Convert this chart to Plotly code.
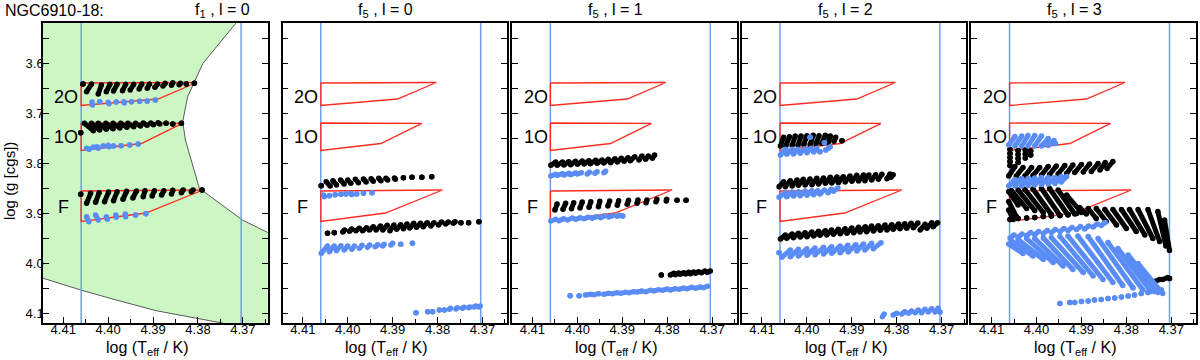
import plotly.graph_objects as go

# ---------------------------------------------------------------- data
x_range = [4.4145, 4.3645]          # log Teff, reversed
y_range = [4.12, 3.52]              # log g, reversed
blue_lines = [4.4060, 4.3704]

x_ticks = [4.41, 4.40, 4.39, 4.38, 4.37]
y_ticks = [3.6, 3.7, 3.8, 3.9, 4.0, 4.1]

# instability strip edges (first panel)
edge_upper_x = [4.3697, 4.3715, 4.3789, 4.3823, 4.3834, 4.3828, 4.3797, 4.3701, 4.3645, 4.3600]
edge_upper_y = [3.500, 3.520, 3.6006, 3.6674, 3.7174, 3.754, 3.8506, 3.914, 3.939, 3.959]
edge_lower_x = [4.4200, 4.4145, 4.4061, 4.3982, 4.3893, 4.3743, 4.3687]
edge_lower_y = [4.015, 4.0306, 4.054, 4.074, 4.0954, 4.1206, 4.130]

# observed boxes (red)
box_2O_x = [4.4060, 4.3803, 4.3889, 4.4060, 4.4060]
box_2O_y = [3.640, 3.639, 3.672, 3.685, 3.640]
box_1O_x = [4.4060, 4.3835, 4.3926, 4.4060, 4.4060]
box_1O_y = [3.720, 3.7206, 3.761, 3.775, 3.720]
box_F_x = [4.4060, 4.3789, 4.3916, 4.4060, 4.4060]
box_F_y = [3.856, 3.854, 3.900, 3.917, 3.856]

mode_labels = ["2O", "1O", "F"]
mode_label_x = [4.4093, 4.4093, 4.4100]
mode_label_y = [3.6674, 3.7474, 3.888]

panel_titles = ["f<sub>1</sub> , l = 0", "f<sub>5</sub> , l = 0", "f<sub>5</sub> , l = 1",
                "f<sub>5</sub> , l = 2", "f<sub>5</sub> , l = 3"]

# model points: (x1, y1, x2, y2) short tracks, or (x, y) single models
p1_2O_black = [(4.4056, 3.642), (4.4048, 3.6573, 4.4037, 3.6420), (4.4022, 3.6620, 4.4015, 3.6440),
               (4.4004, 3.6573, 4.3996, 3.6427), (4.3988, 3.6560, 4.3980, 3.6427),
               (4.3968, 3.6553, 4.3961, 3.6427), (4.3951, 3.6540, 4.3943, 3.6427),
               (4.3931, 3.6520, 4.3925, 3.6420), (4.3913, 3.6507, 4.3908, 3.6420),
               (4.3896, 3.6487, 4.3890, 3.6420), (4.3878, 3.6460, 4.3873, 3.6407),
               (4.3859, 3.6447, 4.3856, 3.6393), (4.3842, 3.6433, 4.3839, 3.6407),
               (4.3826, 3.6420), (4.3808, 3.6407)]
p1_2O_blue = [(4.4036, 3.678, 4.4035, 3.684), (4.4019, 3.6773), (4.4000, 3.6787, 4.3998, 3.6813),
              (4.3982, 3.6780), (4.3965, 3.6773, 4.3964, 3.680), (4.3948, 3.6773),
              (4.3930, 3.6767), (4.3913, 3.6760), (4.3895, 3.6740)]
p1_1O_black = [(4.4061, 3.7393), (4.4053, 3.7207, 4.4033, 3.7353), (4.4037, 3.7207, 4.4019, 3.7340),
               (4.4022, 3.7207, 4.4004, 3.7327), (4.4005, 3.7207, 4.3989, 3.7313),
               (4.3989, 3.7207, 4.3974, 3.7300), (4.3972, 3.7207, 4.3958, 3.7287),
               (4.3956, 3.7207, 4.3943, 3.7273), (4.3939, 3.7207, 4.3928, 3.7260),
               (4.3922, 3.7200, 4.3913, 3.7247), (4.3905, 3.7200, 4.3899, 3.7233),
               (4.3889, 3.7193, 4.3885, 3.7220), (4.3871, 3.7207), (4.3856, 3.7220), (4.3837, 3.7207)]
p1_1O_blue = [(4.4048, 3.7707, 4.4042, 3.7727), (4.4033, 3.7687), (4.4025, 3.7673, 4.4022, 3.7707),
              (4.4011, 3.7660), (4.4000, 3.7647, 4.3998, 3.7673), (4.3988, 3.7660),
              (4.3971, 3.7653), (4.3952, 3.7640), (4.3933, 3.7620)]
p1_F_black = [(4.4061, 3.8627), (4.4048, 3.8807, 4.4039, 3.8607), (4.4028, 3.8787, 4.4020, 3.8593),
              (4.4008, 3.8773, 4.3999, 3.8580), (4.3988, 3.8753, 4.3980, 3.8573),
              (4.3967, 3.8727, 4.3959, 3.8567), (4.3945, 3.8700, 4.3937, 3.8560),
              (4.3922, 3.8673, 4.3918, 3.8553), (4.3902, 3.8660, 4.3897, 3.8553),
              (4.3881, 3.8640, 4.3876, 3.8553), (4.3859, 3.8620, 4.3856, 3.8547),
              (4.3837, 3.8593, 4.3833, 3.8540), (4.3815, 3.8573, 4.3811, 3.8540), (4.3791, 3.8540)]
p1_F_blue = [(4.4048, 3.9073, 4.4043, 3.9173), (4.4028, 3.9040, 4.4022, 3.9140),
             (4.4004, 3.9073, 4.4002, 3.9127), (4.3983, 3.9040, 4.3982, 3.9087),
             (4.3962, 3.9020, 4.3961, 3.9073), (4.3939, 3.9040), (4.3916, 3.9013)]

p2_up_black = [(4.4059, 3.8453), (4.4048, 3.8373, 4.4039, 3.8460), (4.4033, 3.8353, 4.4025, 3.8440),
               (4.4016, 3.8340, 4.4008, 3.8420), (4.4000, 3.8340, 4.3993, 3.8407),
               (4.3983, 3.8327, 4.3976, 3.8393), (4.3965, 3.8320, 4.3959, 3.8380),
               (4.3948, 3.8313, 4.3943, 3.8367), (4.3931, 3.8307, 4.3926, 3.8353),
               (4.3915, 3.8307, 4.3911, 3.8340), (4.3896, 3.8300, 4.3894, 3.8327),
               (4.3876, 3.8293), (4.3857, 3.8287), (4.3835, 3.8287), (4.3813, 3.8273)]
p2_up_blue = [(4.4054, 3.8640, 4.4052, 3.8673), (4.4041, 3.8653), (4.4028, 3.8633), (4.4015, 3.8627),
              (4.4004, 3.8620), (4.3993, 3.8607, 4.3991, 3.8633), (4.3980, 3.8620),
              (4.3965, 3.8607), (4.3946, 3.8593)]
p2_low_black = [(4.4045, 3.9407), (4.4030, 3.9393), (4.4011, 3.9380, 4.4007, 3.9340),
                (4.3996, 3.9367, 4.3991, 3.9320), (4.3982, 3.9353, 4.3974, 3.9307),
                (4.3967, 3.9353, 4.3958, 3.9293), (4.3952, 3.9340, 4.3943, 3.9273),
                (4.3937, 3.9340, 4.3927, 3.9260), (4.3922, 3.9340, 4.3912, 3.9247),
                (4.3906, 3.9353, 4.3897, 3.9240), (4.3891, 3.9327, 4.3882, 3.9233),
                (4.3876, 3.9313, 4.3868, 3.9220), (4.3862, 3.9300, 4.3853, 3.9207),
                (4.3847, 3.9287, 4.3838, 3.9207), (4.3832, 3.9273, 4.3823, 3.9193),
                (4.3815, 3.9260, 4.3808, 3.9193), (4.3798, 3.9240, 4.3791, 3.9180),
                (4.3782, 3.9220, 4.3776, 3.9180), (4.3765, 3.9207, 4.3761, 3.9173),
                (4.3748, 3.9193), (4.3731, 3.9193), (4.3708, 3.9173)]
p2_low_blue = [(4.4059, 3.9807, 4.4045, 3.9660), (4.4041, 3.9773, 4.4030, 3.9660),
               (4.4025, 3.9753, 4.4015, 3.9653), (4.4008, 3.9740, 4.4000, 3.9660),
               (4.3991, 3.9727, 4.3985, 3.9660), (4.3974, 3.9707, 4.3968, 3.9647),
               (4.3956, 3.9687, 4.3951, 3.9640), (4.3939, 3.9673, 4.3933, 3.9633),
               (4.3922, 3.9660, 4.3919, 3.9627), (4.3904, 3.9640, 4.3900, 3.9607),
               (4.3882, 3.9627), (4.3856, 3.9607)]
p2_bot_blue = [(4.3848, 4.0993), (4.3822, 4.0973), (4.3811, 4.0973), (4.3796, 4.0940), (4.3785, 4.0940),
               (4.3774, 4.0927, 4.3771, 4.0907), (4.3759, 4.0920, 4.3756, 4.0893),
               (4.3745, 4.0907, 4.3741, 4.0887), (4.3731, 4.0893, 4.3728, 4.0880),
               (4.3719, 4.0880, 4.3715, 4.0860), (4.3708, 4.0880, 4.3705, 4.0860)]

p3_up_black = [(4.4059, 3.8047, 4.4048, 3.7980), (4.4045, 3.8047, 4.4033, 3.7980),
               (4.4030, 3.8040, 4.4019, 3.7973), (4.4015, 3.8033, 4.4004, 3.7967),
               (4.4000, 3.8027, 4.3989, 3.7960), (4.3985, 3.8020, 4.3974, 3.7953),
               (4.3971, 3.8013, 4.3959, 3.7947), (4.3956, 3.8007, 4.3945, 3.7940),
               (4.3941, 3.8000, 4.3931, 3.7927), (4.3926, 3.7993, 4.3916, 3.7913),
               (4.3911, 3.7980, 4.3902, 3.7907), (4.3896, 3.7967, 4.3887, 3.7893),
               (4.3882, 3.7953, 4.3872, 3.7873), (4.3863, 3.7940, 4.3856, 3.7860),
               (4.3848, 3.7927, 4.3842, 3.7860), (4.3833, 3.7907, 4.3828, 3.7840)]
p3_up_blue = [(4.4059, 3.8260, 4.4048, 3.8227), (4.4045, 3.8247, 4.4033, 3.8213),
              (4.4030, 3.8240, 4.4019, 3.8207), (4.4015, 3.8233, 4.4004, 3.8200),
              (4.4000, 3.8220, 4.3991, 3.8193), (4.3978, 3.8220, 4.3973, 3.8187),
              (4.3961, 3.8207, 4.3956, 3.8173), (4.3941, 3.8193, 4.3937, 3.8167)]
p3_F_black = [(4.4050, 3.8940, 4.4045, 3.8820), (4.4032, 3.8927, 4.4026, 3.8807),
              (4.4013, 3.8913, 4.4008, 3.8793), (4.3994, 3.8900, 4.3989, 3.8780),
              (4.3974, 3.8887, 4.3970, 3.8773), (4.3953, 3.8873, 4.3950, 3.8767),
              (4.3932, 3.8860, 4.3928, 3.8760), (4.3911, 3.8847, 4.3908, 3.8753),
              (4.3889, 3.8827, 4.3886, 3.8747), (4.3867, 3.8807, 4.3865, 3.8740),
              (4.3847, 3.8793, 4.3845, 3.8740), (4.3825, 3.8773, 4.3823, 3.8727),
              (4.3802, 3.8760, 4.3801, 3.8727), (4.3778, 3.8747), (4.3758, 3.8747)]
p3_F_blue = [(4.4059, 3.9160, 4.4048, 3.9127), (4.4041, 3.9153, 4.4030, 3.9113),
             (4.4022, 3.9140, 4.4011, 3.9100), (4.4004, 3.9127, 4.3993, 3.9093),
             (4.3985, 3.9113, 4.3976, 3.9087), (4.3967, 3.9107, 4.3958, 3.9073),
             (4.3948, 3.9093, 4.3941, 3.9060), (4.3930, 3.9080, 4.3922, 3.9053),
             (4.3911, 3.9067, 4.3906, 3.9047), (4.3899, 3.9060)]
p3_low_black = [(4.3813, 4.0240), (4.3793, 4.0240, 4.3785, 4.0207), (4.3782, 4.0233, 4.3774, 4.0200),
                (4.3771, 4.0227, 4.3763, 4.0193), (4.3759, 4.0220, 4.3752, 4.0187),
                (4.3748, 4.0213, 4.3741, 4.0180), (4.3737, 4.0207, 4.3730, 4.0173),
                (4.3724, 4.0193, 4.3716, 4.0160), (4.3711, 4.0187, 4.3704, 4.0160)]
p3_low_blue = [(4.4016, 4.0653), (4.3996, 4.0653), (4.3982, 4.0640, 4.3970, 4.0627),
               (4.3963, 4.0633, 4.3952, 4.0613), (4.3941, 4.0627, 4.3930, 4.0607),
               (4.3922, 4.0613, 4.3911, 4.0593), (4.3904, 4.0607, 4.3893, 4.0587),
               (4.3885, 4.0593, 4.3874, 4.0573), (4.3867, 4.0580, 4.3856, 4.0560),
               (4.3848, 4.0573, 4.3837, 4.0547), (4.3830, 4.0560, 4.3819, 4.0533),
               (4.3811, 4.0547, 4.3800, 4.0520), (4.3793, 4.0540, 4.3782, 4.0513),
               (4.3774, 4.0527, 4.3763, 4.0500), (4.3756, 4.0513, 4.3745, 4.0487),
               (4.3737, 4.0507, 4.3726, 4.0480), (4.3719, 4.0493, 4.3710, 4.0467)]

p4_1O_black = [(4.4059, 3.7660, 4.4052, 3.7487), (4.4047, 3.7660, 4.4039, 3.7473),
               (4.4033, 3.7647, 4.4026, 3.7460), (4.4020, 3.7647, 4.4013, 3.7460),
               (4.4007, 3.7633, 4.4000, 3.7453), (4.3993, 3.7633, 4.3986, 3.7447),
               (4.3980, 3.7620, 4.3973, 3.7453), (4.3967, 3.7607, 4.3959, 3.7447),
               (4.3953, 3.7593, 4.3948, 3.7460), (4.3940, 3.7567, 4.3936, 3.7487), (4.3922, 3.7553)]
p4_1O_blue = [(4.4059, 3.7840, 4.4048, 3.7727), (4.4045, 3.7827, 4.4033, 3.7727),
              (4.4030, 3.7820, 4.4020, 3.7727), (4.4015, 3.7807, 4.4005, 3.7713),
              (4.4000, 3.7793, 4.3991, 3.7707), (4.3985, 3.7780, 4.3978, 3.7707),
              (4.3971, 3.7773), (4.3958, 3.7740), (4.3952, 3.7707, 4.3948, 3.7673),
              (4.3993, 3.7487), (4.3961, 3.7593)]
p4_mid_black = [(4.4062, 3.8473, 4.4052, 3.8373), (4.4048, 3.8473, 4.4037, 3.8353),
                (4.4033, 3.8460, 4.4022, 3.8340), (4.4019, 3.8447, 4.4008, 3.8327),
                (4.4004, 3.8440, 4.3993, 3.8320), (4.3989, 3.8433, 4.3978, 3.8307),
                (4.3974, 3.8420, 4.3963, 3.8300), (4.3959, 3.8407, 4.3948, 3.8287),
                (4.3945, 3.8400, 4.3933, 3.8280), (4.3930, 3.8393, 4.3919, 3.8273),
                (4.3915, 3.8380, 4.3904, 3.8260), (4.3900, 3.8367, 4.3889, 3.8247),
                (4.3885, 3.8360, 4.3874, 3.8240), (4.3871, 3.8353, 4.3862, 3.8240),
                (4.3856, 3.8340, 4.3847, 3.8233), (4.3841, 3.8327, 4.3833, 3.8227),
                (4.3822, 3.8313, 4.3815, 3.8220), (4.3813, 3.8287, 4.3808, 3.8233)]
p4_mid_blue = [(4.4062, 3.8687, 4.4048, 3.8593), (4.4045, 3.8673, 4.4033, 3.8580),
               (4.4030, 3.8660, 4.4019, 3.8573), (4.4015, 3.8653, 4.4004, 3.8560),
               (4.4000, 3.8647, 4.3989, 3.8553), (4.3985, 3.8633, 4.3976, 3.8553),
               (4.3971, 3.8620, 4.3961, 3.8540), (4.3953, 3.8593, 4.3946, 3.8527),
               (4.3941, 3.8567, 4.3931, 3.8500)]
p4_low_black = [(4.4059, 3.9520, 4.4048, 3.9440), (4.4045, 3.9507, 4.4033, 3.9420),
                (4.4030, 3.9493, 4.4019, 3.9407), (4.4015, 3.9480, 4.4004, 3.9393),
                (4.4000, 3.9473, 4.3989, 3.9380), (4.3985, 3.9460, 4.3974, 3.9367),
                (4.3971, 3.9447, 4.3959, 3.9353), (4.3956, 3.9440, 4.3945, 3.9340),
                (4.3941, 3.9427, 4.3930, 3.9327), (4.3926, 3.9413, 4.3915, 3.9313),
                (4.3911, 3.9407, 4.3900, 3.9300), (4.3896, 3.9393, 4.3885, 3.9287),
                (4.3882, 3.9380, 4.3870, 3.9273), (4.3867, 3.9373, 4.3856, 3.9260),
                (4.3852, 3.9360, 4.3841, 3.9253), (4.3837, 3.9347, 4.3826, 3.9240),
                (4.3822, 3.9340, 4.3811, 3.9233), (4.3808, 3.9327, 4.3796, 3.9220),
                (4.3793, 3.9313, 4.3782, 3.9213), (4.3778, 3.9307, 4.3768, 3.9207),
                (4.3763, 3.9293, 4.3753, 3.9200), (4.3748, 3.9340, 4.3737, 3.9227),
                (4.3733, 3.9307, 4.3722, 3.9193), (4.3719, 3.9273, 4.3709, 3.9193)]
p4_low_blue = [(4.4062, 3.9793), (4.4056, 3.9887, 4.4037, 3.9740), (4.4037, 3.9873, 4.4019, 3.9727),
               (4.4019, 3.9860, 4.4000, 3.9713), (4.4000, 3.9847, 4.3982, 3.9700),
               (4.3982, 3.9833, 4.3963, 3.9687), (4.3963, 3.9820, 4.3945, 3.9673),
               (4.3945, 3.9807, 4.3926, 3.9660), (4.3926, 3.9793, 4.3909, 3.9647),
               (4.3908, 3.9780, 4.3891, 3.9633), (4.3889, 3.9760, 4.3874, 3.9620),
               (4.3871, 3.9740, 4.3856, 3.9607), (4.3852, 3.9713, 4.3835, 3.9593)]
p4_bot_blue = [(4.3832, 4.1073, 4.3828, 4.1020), (4.3808, 4.1040, 4.3800, 4.1007),
               (4.3789, 4.1020, 4.3782, 4.0973), (4.3774, 4.1007, 4.3767, 4.0960),
               (4.3759, 4.0993, 4.3752, 4.0940), (4.3745, 4.0993, 4.3737, 4.0927),
               (4.3730, 4.0980, 4.3722, 4.0913), (4.3715, 4.0980, 4.3708, 4.0907), (4.3704, 4.0980)]

p5_top_blue = [(4.4062, 3.764, 4.4048, 3.747), (4.4048, 3.766, 4.4033, 3.746),
               (4.4033, 3.766, 4.4019, 3.745), (4.4019, 3.766, 4.4004, 3.745),
               (4.4004, 3.766, 4.3989, 3.746), (4.3989, 3.766, 4.3974, 3.751),
               (4.3974, 3.765, 4.3961, 3.755), (4.3958, 3.761)]
p5_cols_black = [(4.4059, 3.773), (4.4059, 3.781), (4.4059, 3.789), (4.4059, 3.797), (4.4059, 3.805),
                 (4.4041, 3.775), (4.4041, 3.783), (4.4041, 3.791), (4.4041, 3.799),
                 (4.4025, 3.774), (4.4025, 3.782), (4.4025, 3.790),
                 (4.4013, 3.776), (4.4013, 3.784)]
p5_band_black = [(4.4062, 3.826, 4.4048, 3.807), (4.4045, 3.826, 4.4030, 3.809),
                 (4.4026, 3.826, 4.4011, 3.809), (4.4008, 3.825, 4.3993, 3.809),
                 (4.3989, 3.824, 4.3974, 3.807), (4.3971, 3.823, 4.3956, 3.806),
                 (4.3952, 3.822, 4.3937, 3.805), (4.3933, 3.821, 4.3919, 3.804),
                 (4.3915, 3.819, 4.3900, 3.803), (4.3896, 3.818, 4.3882, 3.802),
                 (4.3878, 3.817, 4.3863, 3.801), (4.3859, 3.814, 4.3847, 3.799),
                 (4.3843, 3.811, 4.3830, 3.797)]
p5_mid_blue = [(4.4062, 3.846, 4.4048, 3.833), (4.4048, 3.846, 4.4033, 3.831),
               (4.4033, 3.846, 4.4019, 3.831), (4.4019, 3.845, 4.4004, 3.830),
               (4.4004, 3.844, 4.3989, 3.829), (4.3989, 3.843, 4.3974, 3.829),
               (4.3974, 3.842, 4.3959, 3.829), (4.3959, 3.841, 4.3945, 3.827),
               (4.3945, 3.838, 4.3933, 3.827)]
p5_F_black = [(4.4062, 3.857, 4.4041, 3.884), (4.4056, 3.855, 4.4022, 3.891),
              (4.4041, 3.854, 4.4004, 3.895), (4.4026, 3.853, 4.3985, 3.899),
              (4.4008, 3.852, 4.3967, 3.903), (4.3989, 3.851, 4.3948, 3.905),
              (4.3971, 3.851, 4.3930, 3.904), (4.3952, 3.854, 4.3915, 3.902),
              (4.3933, 3.864, 4.3900, 3.899), (4.4062, 3.877, 4.4045, 3.907),
              (4.4062, 3.894, 4.4052, 3.913),
              (4.4059, 3.913), (4.4041, 3.911), (4.4022, 3.910), (4.4004, 3.909), (4.3985, 3.907),
              (4.3967, 3.906), (4.3948, 3.905), (4.3930, 3.903), (4.3911, 3.901), (4.3897, 3.898)]
p5_right_black = [(4.3904, 3.889, 4.3889, 3.902), (4.3885, 3.891, 4.3867, 3.911),
                  (4.3867, 3.891, 4.3845, 3.917), (4.3848, 3.893, 4.3822, 3.924),
                  (4.3830, 3.893, 4.3800, 3.931), (4.3811, 3.893, 4.3778, 3.937),
                  (4.3793, 3.893, 4.3759, 3.944), (4.3774, 3.893, 4.3741, 3.951),
                  (4.3752, 3.893, 4.3726, 3.957), (4.3730, 3.897, 4.3712, 3.966),
                  (4.3715, 3.914, 4.3704, 3.975)]
p5_bot_black = [(4.3756, 4.034), (4.3737, 4.037, 4.3726, 4.033), (4.3719, 4.033, 4.3708, 4.029),
                (4.3704, 4.031)]
p5_row_blue = [(4.4059, 3.950, 4.4050, 3.944), (4.4041, 3.948, 4.4032, 3.942),
               (4.4022, 3.945, 4.4013, 3.939), (4.4004, 3.943, 4.3995, 3.937),
               (4.3985, 3.941, 4.3976, 3.935), (4.3967, 3.939, 4.3958, 3.933),
               (4.3948, 3.937, 4.3939, 3.931), (4.3930, 3.935, 4.3921, 3.929),
               (4.3911, 3.933, 4.3902, 3.927), (4.3893, 3.932, 4.3884, 3.926),
               (4.3874, 3.928, 4.3865, 3.922), (4.3856, 3.925, 4.3847, 3.919)]
p5_diag_blue = [(4.4062, 3.962, 4.4030, 3.981), (4.4056, 3.955, 4.4008, 3.986),
                (4.4041, 3.953, 4.3985, 3.993), (4.4022, 3.951, 4.3963, 3.999),
                (4.4004, 3.951, 4.3941, 4.006), (4.3985, 3.950, 4.3919, 4.013),
                (4.3967, 3.949, 4.3896, 4.019), (4.3948, 3.947, 4.3874, 4.026),
                (4.3930, 3.946, 4.3852, 4.033), (4.3908, 3.946, 4.3830, 4.039),
                (4.3885, 3.947, 4.3808, 4.045), (4.3863, 3.951, 4.3785, 4.050),
                (4.3841, 3.959, 4.3763, 4.054), (4.3819, 3.971, 4.3745, 4.057),
                (4.3796, 3.984, 4.3730, 4.059), (4.3774, 4.001, 4.3719, 4.061)]
p5_hook_blue = [(4.3948, 4.081), (4.3926, 4.079), (4.3915, 4.079), (4.3900, 4.077), (4.3885, 4.076),
                (4.3871, 4.074), (4.3856, 4.073), (4.3841, 4.071), (4.3826, 4.070), (4.3811, 4.068),
                (4.3796, 4.066), (4.3782, 4.064), (4.3767, 4.061), (4.3752, 4.059), (4.3737, 4.057),
                (4.3722, 4.054)]

panel_black = [
    [p1_2O_black, p1_1O_black, p1_F_black],
    [p2_up_black, p2_low_black],
    [p3_up_black, p3_F_black, p3_low_black],
    [p4_1O_black, p4_mid_black, p4_low_black],
    [p5_cols_black, p5_band_black, p5_F_black, p5_right_black, p5_bot_black],
]
panel_blue = [
    [p1_2O_blue, p1_1O_blue, p1_F_blue],
    [p2_up_blue, p2_low_blue, p2_bot_blue],
    [p3_up_blue, p3_F_blue, p3_low_blue],
    [p4_1O_blue, p4_mid_blue, p4_low_blue, p4_bot_blue],
    [p5_top_blue, p5_mid_blue, p5_row_blue, p5_diag_blue, p5_hook_blue],
]

# ---------------------------------------------------------------- style
FONT = "Liberation Sans, Arial, Helvetica, sans-serif"
GREEN = "#ccf6c4"
BLUE_LINE = "#6f9df2"
BLUE_PT = "#5a8cf5"
RED = "#ff2a1f"
W, H = 1200, 360
ML, MR, MT, MB = 43, 2, 23, 37
PW = W - ML - MR
PH = H - MT - MB
panel_left = [43, 283, 513, 743, 973]
panel_w = 225


def seg_xy(segs):
    xs, ys = [], []
    for s in segs:
        if len(s) == 2:
            s = (s[0], s[1], s[0], s[1])
        xs += [s[0], s[2], None]
        ys += [s[1], s[3], None]
    return xs, ys


def px_x(px):
    return (px - ML) / PW


def px_y(py):
    return (MT + PH - py) / PH


fig = go.Figure()

for i in range(5):
    xa = "x" if i == 0 else f"x{i + 1}"
    ya = "y" if i == 0 else f"y{i + 1}"

    if i == 0:
        fx = [x_range[0] + 0.01] + edge_upper_x + [edge_upper_x[-1]] + edge_lower_x[::-1] + [x_range[0] + 0.01]
        fy = [edge_upper_y[0]] + edge_upper_y + [4.2] + edge_lower_y[::-1] + [edge_upper_y[0]]
        fig.add_trace(go.Scatter(x=fx, y=fy, fill="toself", fillcolor=GREEN, mode="none",
                                 xaxis=xa, yaxis=ya, hoverinfo="skip", showlegend=False))
        for ex, ey in [(edge_upper_x, edge_upper_y), (edge_lower_x, edge_lower_y)]:
            fig.add_trace(go.Scatter(x=ex, y=ey, mode="lines", line=dict(color="#5a5a5a", width=1),
                                     xaxis=xa, yaxis=ya, hoverinfo="skip", showlegend=False))

    for bx in blue_lines:
        fig.add_trace(go.Scatter(x=[bx, bx], y=[3.4, 4.2], mode="lines",
                                 line=dict(color=BLUE_LINE, width=1.5),
                                 xaxis=xa, yaxis=ya, hoverinfo="skip", showlegend=False))

    for bx, by in [(box_2O_x, box_2O_y), (box_1O_x, box_1O_y), (box_F_x, box_F_y)]:
        fig.add_trace(go.Scatter(x=bx, y=by, mode="lines", line=dict(color=RED, width=1.3),
                                 xaxis=xa, yaxis=ya, hoverinfo="skip", showlegend=False))

    for segs, col in [(s, "black") for s in panel_black[i]] + [(s, BLUE_PT) for s in panel_blue[i]]:
        sx, sy = seg_xy(segs)
        fig.add_trace(go.Scatter(x=sx, y=sy, mode="lines+markers",
                                 line=dict(color=col, width=5),
                                 marker=dict(color=col, size=5.5, line=dict(width=0)),
                                 xaxis=xa, yaxis=ya, hoverinfo="skip", showlegend=False))

    for lab, lx, ly in zip(mode_labels, mode_label_x, mode_label_y):
        fig.add_annotation(x=lx, y=ly, xref=xa, yref=ya, text=lab, showarrow=False,
                           xanchor="center", yanchor="middle",
                           font=dict(family=FONT, size=18, color="black"))

    d0 = px_x(panel_left[i])
    d1 = px_x(panel_left[i] + panel_w)
    axis_common = dict(showgrid=False, zeroline=False, showline=True, linecolor="black",
                       linewidth=1.5, ticks="inside", tickcolor="black", tickwidth=1,
                       tickfont=dict(family=FONT, size=13, color="black"))
    fig.layout[("xaxis" if i == 0 else f"xaxis{i + 1}")] = dict(
        axis_common, domain=[d0, min(d1, 1.0)], range=x_range, anchor=ya, mirror=True,
        tickvals=x_ticks, ticktext=[f"{v:.2f}" for v in x_ticks], ticklen=6,
        ticklabelstandoff=-6,
        minor=dict(tickvals=[4.405, 4.395, 4.385, 4.375, 4.365], ticks="inside", ticklen=4,
                   tickcolor="black"))
    fig.layout[("yaxis" if i == 0 else f"yaxis{i + 1}")] = dict(
        axis_common, domain=[0, 1], range=y_range, anchor=xa, mirror="ticks",
        tickvals=y_ticks, ticktext=[f"{v:.1f}" for v in y_ticks], ticklen=6,
        ticklabelstandoff=-5, showticklabels=(i == 0),
        minor=dict(tickvals=[3.55, 3.65, 3.75, 3.85, 3.95, 4.05], ticks="inside", ticklen=6,
                   tickcolor="black"))

    cx = panel_left[i] + panel_w / 2
    fig.add_annotation(x=px_x(cx - 8), y=px_y(348), xref="paper", yref="paper",
                       xanchor="center", yanchor="middle",
                       text="log (T<sub>eff</sub> / K)", showarrow=False,
                       font=dict(family=FONT, size=16, color="black"))
    tx = 223 if i == 0 else cx - 9
    fig.add_annotation(x=px_x(tx), y=px_y(11), xref="paper", yref="paper",
                       xanchor="center", yanchor="middle",
                       text=panel_titles[i], showarrow=False,
                       font=dict(family=FONT, size=16, color="black"))

fig.add_annotation(x=px_x(3), y=px_y(11), xref="paper", yref="paper",
                   xanchor="left", yanchor="middle", text="NGC6910-18:", showarrow=False,
                   font=dict(family=FONT, size=16, color="black"))
fig.add_annotation(x=px_x(10), y=px_y(181), xref="paper", yref="paper",
                   xanchor="center", yanchor="middle",
                   text="log (g [cgs])", textangle=-90, showarrow=False,
                   font=dict(family=FONT, size=15, color="black"))

fig.update_layout(width=W, height=H, margin=dict(l=ML, r=MR, t=MT, b=MB),
                  paper_bgcolor="white", plot_bgcolor="white", showlegend=False)

fig.write_html("out.html", config={"displayModeBar": False},
               post_script="document.body.style.margin='0px';")
